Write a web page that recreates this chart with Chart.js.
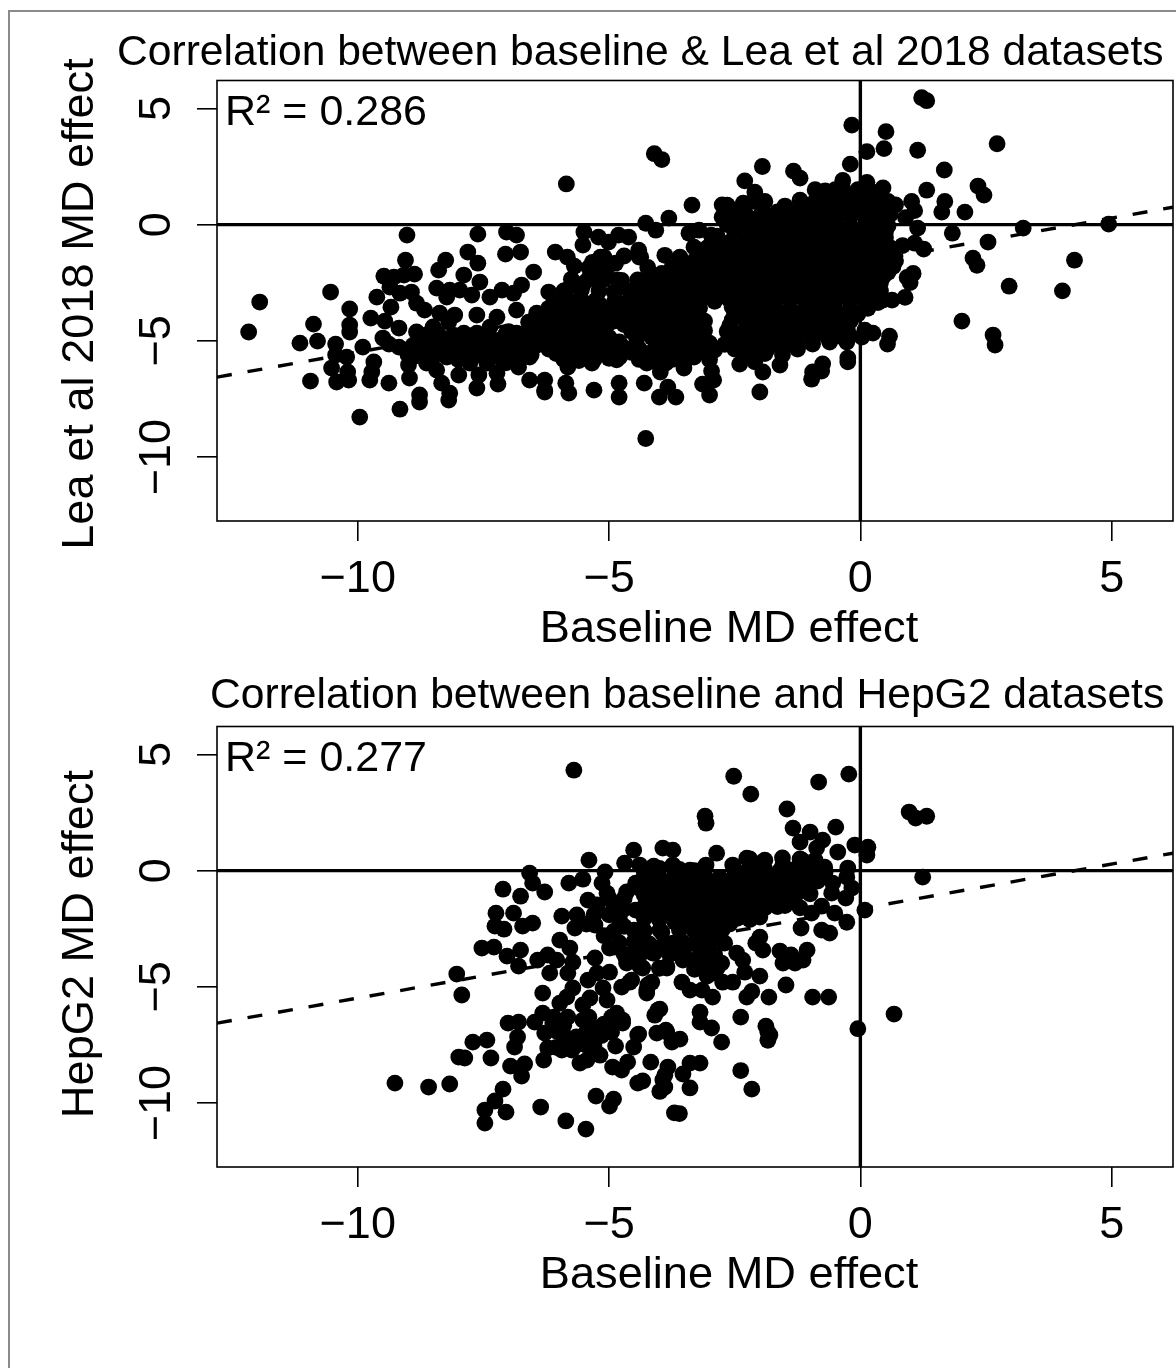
<!DOCTYPE html>
<html>
<head>
<meta charset="utf-8">
<script src="https://cdn.jsdelivr.net/npm/chart.js@4"></script>
<style>
  html, body { margin: 0; padding: 0; background: #fff; width: 1176px; height: 1368px; overflow: hidden; }
  #frame { position: absolute; left: 8px; top: 10px; right: 0; bottom: 0; border-left: 2px solid #8a8a8a; border-top: 2px solid #8a8a8a; }
  canvas { position: absolute; left: 0; }
  #leaChart { top: 0; }
  #hepChart { top: 646px; }
</style>
</head>
<body>
<div id="frame"></div>
<canvas id="leaChart" width="1176" height="660"></canvas>
<canvas id="hepChart" width="1176" height="660"></canvas>
<script>
const xTicks = [-10, -5, 0, 5];
const yTicks = [-10, -5, 0, 5];
const xRange = [-12.8, 6.22];
const yRange = [-12.75, 6.2];
// fitted line, read at the two edges of the box
const fitY = [-6.56, 0.75];

// [baseline effect, other effect]
const leaPoints = [
  [-12.17,-4.62],[-11.95,-3.33],[-11.15,-5.1],[-10.88,-4.28],[-10.8,-5.01],[-10.94,-6.73],[-10.54,-2.9],[-10.16,-3.63],
  [-10.16,-4.32],[-10.16,-4.62],[-10.44,-5.14],[-10.52,-6.17],[-10.42,-6.77],[-10.22,-5.7],[-10.2,-6.34],[-10.18,-6.69],
  [-10.44,-5.61],[-9.9,-5.27],[-9.96,-8.28],[-9.74,-4.02],[-9.46,-4.15],[-9.62,-3.12],[-9.34,-3.55],[-9.18,-4.45],
  [-9.5,-4.88],[-9.38,-5.14],[-9.18,-5.27],[-9.68,-5.91],[-9.72,-6.34],[-9.76,-6.69],[-9.38,-6.82],[-8.97,-6.6],
  [-8.99,-6.04],[-9.16,-7.94],[-8.77,-7.33],[-8.77,-7.63],[-9.02,-0.45],[-9.05,-1.53],[-9.48,-2.22],[-9.28,-2.26],
  [-9.08,-2.17],[-8.87,-2.13],[-9.36,-2.69],[-8.93,-2.9],[-9.16,-2.95],[-8.83,-3.38],[-8.67,-3.68],[-8.39,-1.96],
  [-8.25,-1.53],[-8.43,-2.73],[-8.23,-3.12],[-8.17,-2.82],[-7.81,-1.18],[-7.61,-1.66],[-7.89,-2.17],[-7.57,-2.47],
  [-7.73,-3.03],[-7.97,-2.82],[-7.61,-0.41],[-7.04,-0.32],[-6.84,-0.45],[-7.06,-1.27],[-6.76,-1.18],[-6.5,-2.04],
  [-7.37,-3.12],[-7.13,-2.82],[-6.9,-2.95],[-6.74,-2.6],[-8.37,-3.81],[-8.07,-3.89],[-8.19,-4.19],[-7.63,-3.89],
  [-7.23,-3.98],[-8.83,-4.62],[-8.57,-4.67],[-8.37,-4.97],[-7.89,-4.67],[-8.83,-5.27],[-8.57,-5.53],[-8.23,-5.7],
  [-7.89,-5.27],[-7.49,-5.27],[-7.17,-4.97],[-6.98,-5.53],[-6.8,-6.13],[-6.58,-5.7],[-6.58,-6.69],[-6.28,-7.12],
  [-8.63,-5.96],[-8.43,-6.26],[-7.99,-6.47],[-8.33,-6.82],[-8.17,-7.25],[-8.19,-7.55],[-7.63,-7.03],[-7.59,-6.47],
  [-7.23,-6.39],[-7.21,-6.86],[-7.77,-5.96],[-7.43,-5.96],[-7.63,-4.67],[-7.37,-4.41],[-6.84,-4.67],[-6.44,-4.67],
  [-6.84,-3.68],[-6.44,-3.81],[-9.0,-5.6],[-8.7,-5.1],[-8.1,-5.3],[-7.65,-5.6],[-7.05,-5.95],[-6.7,-5.3],[-6.45,-5.1],
  [-7.0,-4.6],[-6.6,-4.2],[-7.4,-4.9],[-8.0,-5.8],[-8.5,-5.1],
  [-5.5,-0.32],[-5.52,-0.88],[-6.07,-1.18],[-5.83,-1.4],[-5.69,-1.79],[-5.21,-0.54],[-5.01,-0.75],[-4.81,-0.45],
  [-4.61,-0.54],[-4.41,-1.1],[-4.37,-1.4],[-5.33,-1.62],[-5.17,-1.4],[-4.87,-1.66],[-5.17,-1.96],[-5.5,-2.52],[-5.22,-2.47],
  [-4.83,-2.38],[-4.43,-2.38],[-6.2,-2.9],[-5.85,-2.82],[-5.99,-3.38],[-5.6,-3.25],[-5.26,-3.25],[-4.87,-3.25],[-4.55,-3.25],
  [-4.23,-1.84],[-3.89,-1.32],[-4.27,0.06],[-4.07,-0.24],[-3.81,0.28],[-3.35,0.84],[-3.41,-0.37],[-3.21,-0.24],[-2.97,-0.45],
  [-3.31,-0.97],[-3.59,-1.4],[-3.29,-1.53],[-2.95,-1.1],[-2.75,0.32],[-2.67,0.28],[-2.45,0.28],[-2.65,0.84],[-2.33,0.92],
  [-1.93,0.97],[-2.13,1.0],[-1.92,0.4],
  [-6.28,-7.2],[-6.28,-6.69],[-5.86,-6.82],[-5.8,-7.25],[-5.3,-7.12],[-4.8,-6.82],[-4.8,-7.42],[-4.3,-6.82],[-4.0,-7.42],
  [-3.83,-6.99],[-3.67,-7.42],[-3.98,-6.34],[-3.0,-7.33],[-3.14,-6.86],[-2.92,-6.69],[-2.96,-6.3],[-3.0,-5.8],[-5.82,-6.13],
  [-5.34,-5.96],[-4.85,-5.82],[-4.25,-5.96],[-3.87,-5.96],[-3.51,-6.17],[-3.31,-5.7],[-4.79,-5.7],[-2.0,-7.2],[-1.94,-6.34],
  [-1.6,-6.04],[-0.95,-6.34],[-0.75,-5.99],[-0.25,-5.74],[-2.4,-6.0],[-2.1,-5.9],[-1.25,-5.2],[-0.95,-5.14],[-0.61,-5.05],
  [-0.27,-5.05],[0.03,-4.84],[-4.27,-9.2],
  [-5.85,1.75],[-4.1,3.05],[-3.95,2.8],[-2.3,1.88],[-1.95,2.5],[-1.33,2.3],[-1.2,2.0],[-0.9,1.5],[-0.2,2.6],[-0.35,1.9],[-0.5,1.5],
  [-2.1,1.4],[-1.9,1.0],[-2.75,0.85],[-2.6,0.7],[-0.17,4.28],[0.51,4.0],[0.47,3.27],[0.13,3.14],[1.14,3.2],[1.22,5.46],[1.32,5.33],
  [2.72,3.48],[1.67,2.35],[2.34,1.66],[2.46,1.27],[2.08,0.54],[1.68,1.0],[1.62,0.54],[1.32,1.48],[1.14,-0.15],[1.08,0.6],
  [0.7,0.85],[0.45,1.0],[0.13,1.82],[0.45,1.58],[1.02,1.0],[0.9,0.3],
  [1.83,-0.37],[1.08,-0.8],[1.26,-1.05],[0.84,-0.9],[2.54,-0.75],[3.24,-0.15],[4.94,0.02],[4.26,-1.53],[2.24,-1.44],[2.32,-1.75],
  [2.96,-2.65],[4.02,-2.85],[2.02,-4.15],[2.64,-4.75],[2.68,-5.18],
  [1.05,-2.1],[0.93,-2.27],[0.99,-2.49],[0.89,-3.13],[0.63,-3.25],[0.45,-3.25],[0.15,-3.6],[0.58,-4.8],[0.54,-5.14],[0.25,-4.67],
  [0.09,-4.54],[-0.25,-5.9],[-0.77,-6.3],[-0.97,-6.65],
  // dense cloud, read row by row
  [-0.7,1.45],[-0.35,1.55],[-0.05,1.5],[0.2,1.45],
  [-1.2,1.05],[-0.9,1.0],[-0.6,1.1],[-0.3,1.05],[0,1.0],[0.3,1.1],[0.55,1.0],
  [-2.6,0.55],[-2.3,0.5],[-1.95,0.6],[-1.65,0.55],[-1.3,0.5],[-1,0.6],[-0.7,0.55],[-0.35,0.5],[-0.1,0.6],[0.25,0.55],[0.6,0.45],
  [-2.65,0],[-2.35,0.05],[-2.05,-0.05],[-1.7,0],[-1.4,0.05],[-1.1,-0.05],[-0.8,0],[-0.5,0.05],[-0.2,-0.05],[0.1,0],[0.35,0.05],[0.55,-0.05],
  [-2.85,-0.5],[-2.5,-0.45],[-2.2,-0.55],[-1.9,-0.5],[-1.6,-0.45],[-1.3,-0.55],[-1,-0.5],[-0.7,-0.45],[-0.4,-0.55],[-0.1,-0.5],[0.2,-0.45],[0.5,-0.55],
  [-3.05,-1],[-2.75,-1.05],[-2.45,-0.95],[-2.1,-1],[-1.8,-1.05],[-1.5,-0.95],[-1.2,-1],[-0.9,-1.05],[-0.6,-0.95],[-0.3,-1],[0,-1.05],[0.3,-0.95],[0.6,-1],
  [-3.1,-1.5],[-2.8,-1.55],[-2.5,-1.45],[-2.2,-1.5],[-1.9,-1.55],[-1.6,-1.45],[-1.3,-1.5],[-1,-1.55],[-0.7,-1.45],[-0.4,-1.5],[-0.1,-1.55],[0.2,-1.45],[0.5,-1.5],[0.7,-1.55],
  [-3.3,-2],[-3,-2.05],[-2.7,-1.95],[-2.4,-2],[-2.1,-2.05],[-1.8,-1.95],[-1.5,-2],[-1.2,-2.05],[-0.9,-1.95],[-0.6,-2],[-0.3,-2.05],[0,-1.95],[0.3,-2],[0.55,-2.05],
  [-3.5,-2.55],[-3.2,-2.5],[-2.9,-2.6],[-2.6,-2.55],[-2.3,-2.5],[-2,-2.6],[-1.7,-2.55],[-1.4,-2.5],[-1.1,-2.6],[-0.8,-2.55],[-0.5,-2.5],[-0.2,-2.6],[0.1,-2.55],[0.4,-2.5],
  [-3.6,-3.05],[-3.3,-3],[-3,-3.1],[-2.7,-3.05],[-2.4,-3],[-2.1,-3.1],[-1.8,-3.05],[-1.5,-3],[-1.2,-3.1],[-0.9,-3.05],[-0.6,-3],[-0.3,-3.1],[0,-3.05],[0.3,-3],
  [-3.2,-3.6],[-2.55,-3.55],[-2.3,-3.65],[-2,-3.6],[-1.7,-3.55],[-1.4,-3.65],[-1.1,-3.6],[-0.8,-3.55],[-0.5,-3.65],[-0.2,-3.6],[0.1,-3.55],
  [-2.55,-4.1],[-2.3,-4.05],[-2,-4.15],[-1.7,-4.1],[-1.4,-4.05],[-1.1,-4.15],[-0.8,-4.1],[-0.5,-4.05],[-0.2,-4.15],
  [-2.65,-4.6],[-2.35,-4.65],[-2,-4.55],[-1.7,-4.6],[-1.4,-4.65],[-1.1,-4.55],[-0.8,-4.6],[-0.5,-4.65],[-0.25,-4.6],
  [-2.7,-5.15],[-2.35,-5.1],[-2,-5.2],[-1.7,-5.15],[-1.4,-5.1],[-2.3,-5.6],[-1.9,-5.55],[-1.55,-5.6],
  // dense cloud, second reading between the rows
  [-0.85,1.25],[-0.55,1.3],[-0.25,1.25],[0.05,1.2],[0.3,1.3],
  [-1.5,0.8],[-1.15,0.85],[-0.85,0.8],[-0.55,0.75],[-0.2,0.8],[0.15,0.85],[0.45,0.75],
  [-2.45,0.3],[-2.15,0.25],[-1.8,0.3],[-1.5,0.35],[-1.15,0.3],[-0.85,0.25],[-0.55,0.3],[-0.2,0.35],[0.1,0.3],[0.4,0.25],
  [-2.5,-0.25],[-2.2,-0.2],[-1.85,-0.25],[-1.55,-0.3],[-1.25,-0.25],[-0.95,-0.2],[-0.65,-0.25],[-0.35,-0.3],[-0.05,-0.25],[0.25,-0.2],[0.5,-0.3],
  [-2.95,-0.75],[-2.65,-0.8],[-2.35,-0.75],[-2.05,-0.7],[-1.75,-0.75],[-1.45,-0.8],[-1.15,-0.75],[-0.85,-0.7],[-0.55,-0.75],[-0.25,-0.8],[0.05,-0.75],[0.35,-0.7],
  [-2.95,-1.25],[-2.65,-1.3],[-2.35,-1.25],[-2,-1.2],[-1.7,-1.25],[-1.4,-1.3],[-1.1,-1.25],[-0.8,-1.2],[-0.5,-1.25],[-0.2,-1.3],[0.1,-1.25],[0.4,-1.2],[0.65,-1.25],
  [-3.2,-1.75],[-2.9,-1.8],[-2.6,-1.75],[-2.3,-1.7],[-2,-1.75],[-1.7,-1.8],[-1.4,-1.75],[-1.1,-1.7],[-0.8,-1.75],[-0.5,-1.8],[-0.2,-1.75],[0.1,-1.7],[0.4,-1.75],[0.65,-1.8],
  [-3.4,-2.3],[-3.1,-2.25],[-2.8,-2.3],[-2.5,-2.35],[-2.2,-2.3],[-1.9,-2.25],[-1.6,-2.3],[-1.3,-2.35],[-1,-2.3],[-0.7,-2.25],[-0.4,-2.3],[-0.1,-2.35],[0.2,-2.3],[0.45,-2.25],
  [-3.45,-2.8],[-3.15,-2.85],[-2.85,-2.8],[-2.55,-2.75],[-2.25,-2.8],[-1.95,-2.85],[-1.65,-2.8],[-1.35,-2.75],[-1.05,-2.8],[-0.75,-2.85],[-0.45,-2.8],[-0.15,-2.75],[0.15,-2.8],[0.4,-2.85],
  [-3.5,-3.3],[-3.2,-3.35],[-2.9,-3.3],[-2.6,-3.25],[-2.3,-3.3],[-2,-3.35],[-1.7,-3.3],[-1.4,-3.25],[-1.1,-3.3],[-0.8,-3.35],[-0.5,-3.3],[-0.2,-3.25],[0.1,-3.3],[0.35,-3.35],
  [-3.3,-3.85],[-2.5,-3.85],[-2.2,-3.8],[-1.85,-3.85],[-1.55,-3.9],[-1.25,-3.85],[-0.95,-3.8],[-0.65,-3.85],[-0.35,-3.9],[-0.05,-3.85],
  [-2.6,-4.35],[-2.2,-4.3],[-1.85,-4.35],[-1.55,-4.4],[-1.25,-4.35],[-0.95,-4.3],[-0.65,-4.35],[-0.35,-4.4],
  [-2.55,-4.85],[-2.2,-4.9],[-1.85,-4.85],[-1.55,-4.8],[-1.25,-4.85],[-0.95,-4.9],[-0.65,-4.85],[-0.4,-4.8],
  [-2.5,-5.35],[-2.15,-5.4],[-1.85,-5.35],[-1.55,-5.3],[-1.25,-5.35],
  // middle band
  [-6.2,-3.6],[-5.9,-3.65],[-5.6,-3.55],[-5.3,-3.6],[-5,-3.65],[-4.7,-3.55],[-4.4,-3.6],[-4.1,-3.65],[-3.8,-3.55],[-3.5,-3.6],
  [-6.4,-4.1],[-6.1,-4.05],[-5.8,-4.15],[-5.5,-4.1],[-5.2,-4.05],[-4.9,-4.15],[-4.6,-4.1],[-4.3,-4.05],[-4,-4.15],[-3.7,-4.1],[-3.4,-4.05],[-3.1,-4.15],
  [-6.1,-4.6],[-5.8,-4.65],[-5.5,-4.55],[-5.2,-4.6],[-4.55,-4.6],[-4.3,-4.65],[-4,-4.55],[-3.7,-4.6],[-3.4,-4.65],[-3.1,-4.55],
  [-6.3,-5.1],[-6,-5.15],[-5.7,-5.05],[-5.4,-5.1],[-5.1,-5.15],[-4.8,-5.05],[-3.9,-5.1],[-3.6,-5.15],[-3.3,-5.05],[-3,-5.1],
  [-6.05,-5.55],[-5.75,-5.6],[-5.45,-5.5],[-5.15,-5.55],[-4.85,-5.6],[-4.55,-5.5],[-4.25,-5.55],[-3.95,-5.6],[-3.65,-5.5],[-3.35,-5.55],
  [-4.4,-3.1],[-4.1,-3.05],[-3.8,-3.15],[-4.35,-2.6],[-4,-2.55],[-3.7,-2.65],[-3.95,-2.1],[-3.6,-2.05],[-3.3,-2.15],
  [-8.5,-4.4],[-8.1,-4.9],[-7.7,-5.1],[-7.3,-5.4],[-6.9,-5.1],[-6.7,-4.7],[-6.3,-4.4],
  [-5.1,-1.4],[-4.7,-1.35],[-4.4,-1.4],
  [-5.4,-1.85],[-5.05,-1.9],[-3.75,-1.85],[-3.45,-1.8],[-3.15,-1.85],
  [-5.75,-2.35],[-5.4,-2.3],[-5.1,-2.35],[-4.75,-2.4],[-4.2,-2.35],[-3.85,-2.3],[-3.55,-2.35],[-3.25,-2.4],
  [-5.9,-2.85],[-5.55,-2.8],[-5.2,-2.85],[-4.9,-2.9],[-4.6,-2.85],[-4.25,-2.8],[-3.9,-2.85],[-3.6,-2.9],[-3.3,-2.85],
  [-6.1,-3.35],[-5.8,-3.3],[-5.5,-3.35],[-5.2,-3.4],[-4.9,-3.35],[-4.6,-3.3],[-4.25,-3.35],[-3.95,-3.4],[-3.65,-3.35],[-3.35,-3.3],
  [-6.3,-3.85],[-6,-3.9],[-5.7,-3.85],[-5.4,-3.8],[-5.1,-3.85],[-4.8,-3.9],[-4.5,-3.85],[-4.2,-3.8],[-3.9,-3.85],[-3.6,-3.9],
  [-6.25,-4.35],[-5.95,-4.3],[-5.65,-4.35],[-5.35,-4.4],[-5.05,-4.35],[-4.7,-4.3],[-4.45,-4.35],[-4.15,-4.4],[-3.85,-4.35],[-3.55,-4.3],[-3.25,-4.35],
  [-6.2,-4.85],[-5.9,-4.9],[-5.6,-4.85],[-5.3,-4.8],[-5,-4.85],[-4.45,-4.9],[-4.15,-4.85],[-3.85,-4.8],[-3.55,-4.85],[-3.2,-4.9],
  [-6.2,-5.35],[-5.9,-5.3],[-5.6,-5.35],[-5.3,-5.4],[-5,-5.35],[-4.7,-5.3],[-4.4,-5.35],[-4.1,-5.4],[-3.8,-5.35],[-3.5,-5.3],[-3.2,-5.35],[-2.9,-5.4],
  [-5.9,-5.8],[-5.6,-5.85],[-5.3,-5.8],[-5,-5.75],[-4.4,-5.8],[-4.1,-5.85],[-3.75,-5.8],[-3.45,-5.75],
  [-8.75,-4.75],[-8.4,-4.7],[-8.1,-4.75],[-7.75,-4.8],[-7.4,-4.75],[-7.05,-4.7],[-6.75,-4.75],[-6.45,-4.8],
  [-8.9,-5.2],[-8.6,-5.15],[-8.3,-5.2],[-8,-5.25],[-7.65,-5.2],[-7.3,-5.15],[-7,-5.2],[-6.7,-5.25],[-6.45,-5.2],
  [-8.85,-5.65],[-8.5,-5.7],[-8.15,-5.65],[-7.85,-5.6],[-7.5,-5.65],[-7.2,-5.7],[-6.85,-5.65],[-6.55,-5.6]
];

const hepPoints = [
  [-9.26,-9.14],[-8.59,-9.31],[-8.17,-9.18],[-8.03,-4.45],[-7.93,-5.35],[-7.99,-8.02],[-7.87,-8.06],[-7.71,-7.38],[-7.43,-7.29],
  [-7.35,-8.06],[-7.11,-9.4],[-7.27,-9.91],[-7.47,-10.3],[-7.47,-10.86],[-7.05,-10.39],[-6.96,-8.41],[-6.68,-8.32],[-6.74,-8.84],
  [-6.88,-7.59],[-6.82,-7.16],[-7.01,-6.56],[-6.8,-6.52],[-7.53,-3.33],[-7.29,-3.29],[-7.03,-3.68],[-6.76,-3.42],[-6.8,-4.11],
  [-7.25,-1.83],[-7.27,-2.39],[-7.09,-2.52],[-6.9,-1.83],[-6.72,-2.39],[-6.52,-2.26],[-7.11,-0.8],[-6.76,-1.1],[-6.58,-0.11],
  [-6.52,-0.54],[-6.28,-0.92],[-6.36,-10.17],[-5.86,-10.77],[-5.46,-11.12],[-5.26,-9.7],[-4.91,-9.83],[-4.99,-10.13],
  [-4.43,-9.14],[-4.33,-9.05],[-3.89,-9.31],[-3.93,-9.01],[-3.83,-8.45],[-4.17,-8.24],[-4.63,-8.24],[-4.75,-8.58],[-4.93,-8.45],
  [-5.58,-8.28],[-5.44,-8.15],[-5.18,-7.94],[-6.3,-8.15],[-5.94,-7.72],[-6.22,-7.63],[-5.84,-7.2],[-5.74,-7.72],[-5.46,-7.5],
  [-4.87,-7.55],[-4.51,-7.59],[-4.41,-7.03],[-4.05,-6.99],[-3.87,-6.86],[-3.75,-7.38],[-6.32,-6.13],[-6.48,-6.52],[-6.12,-6.56],
  [-6.28,-6.99],[-6.32,-5.27],[-5.98,-5.7],[-5.84,-5.44],[-5.72,-5.05],[-5.82,-6.3],[-5.52,-5.78],[-5.38,-5.48],[-5.52,-6.43],
  [-5.32,-6.77],[-5.22,-7.07],[-4.95,-6.95],[-4.73,-6.56],[-4.85,-6.13],[-5.04,-5.57],[-5.12,-5.05],[-4.03,-6.0],[-4.09,-6.22],
  [-5.42,-4.71],[-5.24,-4.41],[-4.75,-5.01],[-4.55,-4.71],[-4.25,-5.14],[-4.15,-4.8],[-5.98,-2.99],[-5.78,-3.33],[-6.42,-3.85],
  [-6.22,-3.63],[-6.04,-3.85],[-5.72,-3.94],[-5.82,-4.41],[-6.18,-4.41],[-5.28,-3.76],[-4.99,-3.33],[-4.89,-3.29],[-4.65,-3.85],
  [-4.33,-4.19],[-4.99,-4.37],[-3.85,-4.19],[-3.73,-3.12],[-4.05,-3.33],[-5.94,-1.96],[-5.64,-1.91],[-5.68,-2.47],[-5.28,-2.34],
  [-5.42,-1.27],[-5.24,-1.48],[-4.79,-2.13],[-4.73,-1.7],[-4.91,-1.48],[-5.04,-0.97],[-5.8,-0.54],[-5.52,-0.37],[-5.14,-0.54],
  [-5.08,-0.06],[-5.4,0.45],[-4.69,0.32],[-4.51,0.88],[-4.39,0.24],[-4.11,0.19],[-3.93,0.97],[-3.73,0.88],[-3.73,0.24],
  [-4.47,-0.54],[-4.65,-0.92],[-4.47,-1.7],[-4.51,-2.56],[-4.47,-3.29],
  [-5.7,4.32],[-2.52,4.06],[-2.18,3.29],[-0.83,3.81],[-0.23,4.15],[-1.46,2.65],[-3.09,2.34],[-3.07,2.04],[-1.34,1.83],[-1.0,1.66],
  [-0.49,1.87],[-0.75,1.31],[-1.2,1.23],[-0.87,0.97],[-0.45,0.8],[-0.11,1.1],[0.15,1.01],[0.13,0.67],[0.97,2.52],[1.1,2.26],
  [1.32,2.34],[1.24,-0.28],[0.09,-1.7],[-2.86,0.75],[-3.39,0.02],[-3.07,0.24],
  [-2.54,0.24],[-2.26,0.54],[-1.94,0.37],[-1.54,0.24],[-1.16,0.45],[-0.71,0.15],[-0.25,0.11],[-0.27,-0.28],[-0.17,-0.75],[-0.29,-1.18],
  [-0.55,-0.54],[-0.57,-0.97],[-0.77,-1.53],[-0.51,-1.83],[-0.27,-2.22],[-0.97,-1.83],[-1.18,-2.47],[-0.77,-2.56],[-0.61,-2.69],
  [-2.0,-2.86],[-2.08,-3.12],[-1.94,-3.42],[-1.6,-3.46],[-1.38,-3.63],[-1.06,-3.42],[-1.14,-3.85],[-1.3,-3.98],[-1.54,-3.98],
  [-2.0,-4.54],[-1.48,-4.92],[-0.95,-5.44],[-0.63,-5.44],[-1.82,-5.44],[-2.16,-5.2],[-2.26,-5.44],[0.67,-6.17],[-0.05,-6.8],
  [-2.38,-6.3],[-1.88,-6.69],[-1.8,-7.07],[-2.96,-6.77],[-3.19,-6.09],[-3.19,-6.52],[-2.76,-7.38],
  [-2.46,-3.55],[-2.34,-3.85],[-2.3,-4.37],[-2.7,-3.12],[-2.76,-3.98],[-2.94,-4.41],[-2.54,-4.8],[-2.74,-4.8],[-2.94,-5.44],
  [-3.15,-5.14],[-3.39,-5.14],[-3.55,-4.8],[-3.85,-4.11],[-3.05,-4.54],[-3.99,-5.96],[-4.23,-4.92],[-4.25,-5.27],
  [-4.59,-4.8],[-4.73,-6.43],[-4.43,-7.07],[-3.85,-6.95],[-3.59,-7.25],[-3.69,-3.2],[-3.19,-2.69],[-3.05,-3.29],
  [-3.29,-3.85],[-3.53,-3.85],[-3.69,-2.22],[-3.99,-2.56],[-4.39,-2.56],[-4.45,-3.12],[-4.13,-3.55],[-4.39,-4.11],[-4.65,-3.98],
  [-3.6,-10.45],[-3.7,-10.42],[-3.53,-8.75],[-3.39,-8.28],[-3.19,-8.28],[-3.99,-9.5],[-3.89,-8.8],[-3.39,-9.35],[-2.16,-9.4],
  [-2.38,-8.6],[-1.84,-6.95],[-1.84,-7.3],
  // dense band, read row by row
  [-4.3,-0.2],[-4.0,-0.3],[-3.7,-0.2],[-3.4,-0.35],[-3.1,-0.2],[-2.8,-0.3],[-2.5,-0.25],[-2.2,-0.1],[-1.9,-0.2],[-1.6,-0.3],[-1.3,-0.2],[-1.0,-0.25],
  [-4.4,-0.75],[-4.1,-0.8],[-3.8,-0.7],[-3.5,-0.85],[-3.2,-0.75],[-2.9,-0.8],[-2.6,-0.7],[-2.3,-0.85],[-2,-0.75],[-1.7,-0.8],[-1.4,-0.7],[-1.05,-0.9],
  [-4.2,-1.3],[-3.9,-1.25],[-3.6,-1.35],[-3.3,-1.3],[-3,-1.25],[-2.7,-1.35],[-2.4,-1.3],[-2.1,-1.25],[-1.8,-1.4],[-1.5,-1.5],[-1.2,-1.6],
  [-4.1,-1.8],[-3.8,-1.75],[-3.5,-1.85],[-3.2,-1.8],[-2.9,-1.75],[-2.6,-1.85],[-2.3,-1.8],[-2,-2.0],
  [-3.5,-2.35],[-3.2,-2.3],[-2.9,-2.4],[-2.6,-2.3],[-3.2,-2.9],[-2.95,-2.85],[-3.0,-3.6],[-3.1,-4.1],
  // second reading of the band
  [-4.15,-0.5],[-3.85,-0.55],[-3.55,-0.45],[-3.25,-0.5],[-2.95,-0.55],[-2.65,-0.45],[-2.35,-0.5],[-2.05,-0.55],[-1.75,-0.45],[-1.45,-0.5],[-1.15,-0.55],[-0.85,-0.45],
  [-4.3,0.05],[-4,0.1],[-3.6,0.05],[-3.3,0],[-2.5,0.05],[-2.2,0.1],[-1.9,0.05],[-1.6,0],[-1.3,0.05],[-1,0.1],[-0.7,-0.05],
  [-2.2,0.5],[-1.9,0.45],[-1.55,0.55],[-1.2,0.5],[-0.9,0.45],
  [-4.3,-1.05],[-4,-1.1],[-3.7,-1],[-3.4,-1.05],[-3.1,-1.1],[-2.8,-1],[-2.5,-1.05],[-2.2,-1.1],[-1.9,-1],[-1.6,-1.05],[-1.3,-1.1],[-1,-1],
  [-4.3,-1.55],[-4,-1.5],[-3.7,-1.6],[-3.4,-1.55],[-3.1,-1.5],[-2.8,-1.6],[-2.5,-1.55],[-2.2,-1.5],[-1.9,-1.6],[-1.65,-1.55],
  [-4.3,-2.05],[-4,-2.1],[-3.7,-2],[-3.4,-2.05],[-3.1,-2.1],[-2.8,-2],[-2.45,-2.05],[-2.2,-2.1],
  [-4.3,-2.6],[-3.95,-2.65],[-3.6,-2.55],[-3.3,-2.6],[-3,-2.65],[-2.75,-2.55],
  [-4.8,-3.1],[-4.5,-3.05],[-4.2,-3.15],[-3.9,-3.1],[-3.55,-3.05],[-3.3,-3.15],[-3,-3.1],
  [-4.7,-3.6],[-4.4,-3.65],[-4.1,-3.55],[-3.8,-3.6],[-3.5,-3.65],[-3.15,-3.55],[-2.9,-3.6],
  [-4,-4.2],[-3.3,-4.25],[-3.1,-4.15],[-2.85,-4.2],
  [-5,-1.2],[-4.7,-1.2],[-5,-1.9],[-4.7,-2.4],[-5.1,-2.8],[-4.9,-2.6],[-5.3,-1.9],[-5.45,-2.3],
  [-5.4,-6.3],[-5.1,-6.6],[-4.95,-6.3],[-5.15,-7.1],[-5.45,-6.95],[-5.65,-7.15],[-5.9,-7.4],[-6.05,-7.6],[-5.65,-7.5],[-5.3,-7.55],
  [-6.05,-6.9],[-5.9,-6.65],[-6.1,-6.3]
];

const plotBox = {
  id: 'plotBox',
  afterDatasetsDraw(chart) {
    const a = chart.chartArea;
    const ctx = chart.ctx;
    ctx.save();
    ctx.strokeStyle = '#000';
    ctx.lineWidth = 1.6;
    ctx.strokeRect(a.left, a.top, a.right - a.left, a.bottom - a.top);
    ctx.restore();
  }
};

const panelText = {
  id: 'panelText',
  afterDraw(chart, args, opts) {
    const ctx = chart.ctx;
    ctx.save();
    ctx.fillStyle = '#000';
    ctx.textBaseline = 'alphabetic';
    ctx.font = '42.6px "Liberation Sans"';
    ctx.textAlign = 'left';
    ctx.fillText(opts.title, opts.titleX, opts.titleY);
    ctx.font = '43px "Liberation Sans"';
    ctx.fillText(opts.note, 225, 125);
    ctx.font = '45.2px "Liberation Sans"';
    ctx.textAlign = 'center';
    ctx.fillText(opts.xLabel, 729, 642);
    ctx.translate(93, opts.yLabelY);
    ctx.rotate(-Math.PI / 2);
    ctx.fillText(opts.yLabel, 0, 0);
    ctx.restore();
  }
};

const makeChart = (id, points, text) => {
  const ctx = document.getElementById(id).getContext('2d');
  const tickFont = { family: '"Liberation Sans"', size: 45 };
  const minusLabel = (value) => String(value).replace('-', '\u2212');
  return new Chart(ctx, {
    type: 'scatter',
    data: {
      datasets: [
        {
          data: points.map((p) => ({ x: p[0], y: p[1] })),
          backgroundColor: '#000',
          borderWidth: 0,
          pointRadius: 8.4,
          order: 2
        },
        {
          data: [{ x: xRange[0], y: 0 }, { x: xRange[1], y: 0 }],
          showLine: true, borderColor: '#000', borderWidth: 3.4, pointRadius: 0, order: 1
        },
        {
          data: [{ x: 0, y: yRange[0] }, { x: 0, y: yRange[1] }],
          showLine: true, borderColor: '#000', borderWidth: 3.4, pointRadius: 0, order: 1
        },
        {
          data: [{ x: xRange[0], y: fitY[0] }, { x: xRange[1], y: fitY[1] }],
          showLine: true, borderColor: '#000', borderWidth: 3.4, borderDash: [15, 16], pointRadius: 0, order: 1
        }
      ]
    },
    options: {
      responsive: false,
      animation: false,
      devicePixelRatio: 1,
      layout: { autoPadding: false, padding: { left: 117, top: 80.5, right: 3, bottom: 19 } },
      scales: {
        x: {
          type: 'linear',
          min: xRange[0],
          max: xRange[1],
          afterBuildTicks: (axis) => { axis.ticks = xTicks.map((v) => ({ value: v })); },
          afterFit: (axis) => { axis.height = 120; axis.paddingLeft = 0; axis.paddingRight = 0; },
          grid: { drawOnChartArea: false, drawTicks: true, tickLength: 20, color: '#000', lineWidth: 1.6 },
          border: { display: false },
          ticks: {
            font: tickFont, color: '#000', padding: 12, autoSkip: false, maxRotation: 0,
            callback: minusLabel
          }
        },
        y: {
          type: 'linear',
          min: yRange[0],
          max: yRange[1],
          afterBuildTicks: (axis) => { axis.ticks = yTicks.map((v) => ({ value: v })); },
          afterFit: (axis) => { axis.width = 100; axis.paddingTop = 0; axis.paddingBottom = 0; },
          grid: { drawOnChartArea: false, drawTicks: true, tickLength: 20, color: '#000', lineWidth: 1.6 },
          border: { display: false },
          ticks: {
            font: tickFont, color: '#000', padding: 1, autoSkip: false, minRotation: 90, maxRotation: 90,
            crossAlign: 'center',
            callback: minusLabel
          }
        }
      },
      plugins: {
        legend: { display: false },
        tooltip: { enabled: false },
        panelText: text
      }
    },
    plugins: [plotBox, panelText]
  });
};

makeChart('leaChart', leaPoints, {
  title: 'Correlation between baseline & Lea et al 2018 datasets',
  titleX: 117,
  titleY: 65,
  note: 'R\u00b2 = 0.286',
  xLabel: 'Baseline MD effect',
  yLabel: 'Lea et al 2018 MD effect',
  yLabelY: 304
});

makeChart('hepChart', hepPoints, {
  title: 'Correlation between baseline and HepG2 datasets',
  titleX: 210,
  titleY: 62,
  note: 'R\u00b2 = 0.277',
  xLabel: 'Baseline MD effect',
  yLabel: 'HepG2 MD effect',
  yLabelY: 298
});
</script>
</body>
</html>
